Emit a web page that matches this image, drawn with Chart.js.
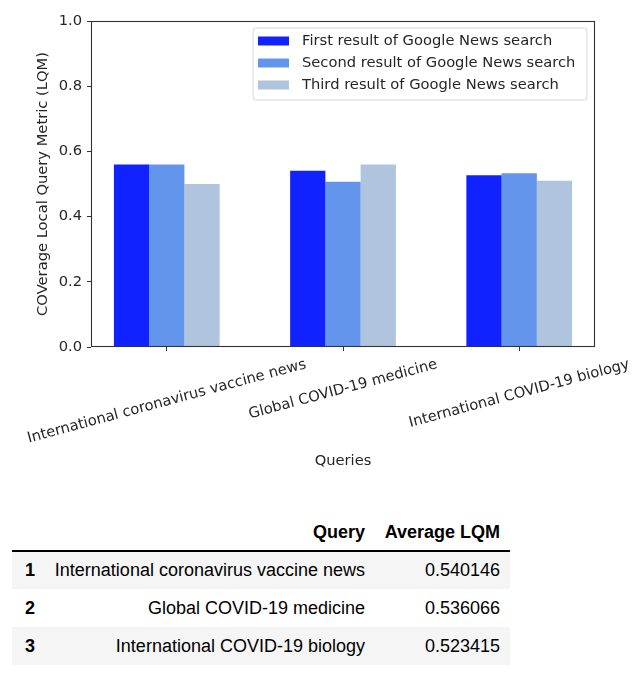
<!DOCTYPE html>
<html>
<head>
<meta charset="utf-8">
<script src="https://cdn.jsdelivr.net/npm/chart.js@4/dist/chart.umd.min.js"></script>
<style>
  html, body { margin: 0; padding: 0; background: #fff; width: 644px; height: 684px; overflow: hidden; }
  #wrap { position: absolute; left: 0; top: 0; width: 644px; height: 490px; }
  table { position: absolute; left: 12px; top: 514px; border-collapse: collapse; width: 498px;
          font-family: 'Liberation Sans', Arial, Helvetica, sans-serif; font-size: 18px; color: #000; table-layout: fixed; }
  th, td { padding: 0; vertical-align: middle; white-space: nowrap; }
  thead tr { height: 37px; border-bottom: 2px solid #000; }
  tbody tr { height: 38px; }
  tbody tr:nth-child(odd) { background: #f5f5f5; }
  .c1 { width: 33px; text-align: left; padding-left: 13px; box-sizing: border-box; font-weight: bold; }
  .c2 { width: 330px; text-align: right; padding-right: 10px; box-sizing: border-box; }
  .c3 { width: 135px; text-align: right; padding-right: 10px; box-sizing: border-box; }
  thead th { font-weight: bold; }
</style>
</head>
<body>
<div id="wrap"><canvas id="chart" width="644" height="490"></canvas></div>
<table id="tbl"><thead></thead><tbody></tbody></table>
<script>
// ---- data ----
const categories = ['International coronavirus vaccine news', 'Global COVID-19 medicine', 'International COVID-19 biology'];
const seriesLabels = ['First result of Google News search', 'Second result of Google News search', 'Third result of Google News search'];
const firstResult  = [0.560, 0.541, 0.527];
const secondResult = [0.560, 0.507, 0.533];
const thirdResult  = [0.500, 0.560, 0.510];
const yTicks = [0.0, 0.2, 0.4, 0.6, 0.8, 1.0];
const tableHeader = ['', 'Query', 'Average LQM'];
const tableRank = ['1', '2', '3'];
const tableQuery = ['International coronavirus vaccine news', 'Global COVID-19 medicine', 'International COVID-19 biology'];
const tableAvg = ['0.540146', '0.536066', '0.523415'];

const seriesColors = ['#1022ff', '#6495ed', '#b0c4de'];
const FONT = "'DejaVu Sans', sans-serif";
const FS = 14.7;
const TXT = '#262626';

// ---- table ----
(function buildTable() {
  const thead = document.querySelector('#tbl thead');
  const tbody = document.querySelector('#tbl tbody');
  const hr = document.createElement('tr');
  tableHeader.forEach((h, i) => {
    const th = document.createElement('th');
    th.className = 'c' + (i + 1);
    th.textContent = h;
    hr.appendChild(th);
  });
  thead.appendChild(hr);
  tableRank.forEach((r, i) => {
    const tr = document.createElement('tr');
    const a = document.createElement('th'); a.className = 'c1'; a.textContent = r;
    const b = document.createElement('td'); b.className = 'c2'; b.textContent = tableQuery[i];
    const c = document.createElement('td'); c.className = 'c3'; c.textContent = tableAvg[i];
    tr.appendChild(a); tr.appendChild(b); tr.appendChild(c);
    tbody.appendChild(tr);
  });
})();

// ---- chart ----
const seriesValues = [firstResult, secondResult, thirdResult];
const datasets = seriesValues.map((vals, s) => ({
  label: seriesLabels[s],
  data: vals.map((v, i) => ({ x: i, y: v })),
  backgroundColor: seriesColors[s],
  borderWidth: 0,
  categoryPercentage: 0.6,
  barPercentage: 1.0
}));

const CANVAS_H = 490;
const AREA = { left: 91, top: 21, right: 595, bottom: 347 };

const customDraw = {
  id: 'customDraw',
  afterDraw(chart) {
    const ctx = chart.ctx;
    const ca = chart.chartArea;
    ctx.save();
    // frame
    ctx.strokeStyle = '#333';
    ctx.lineWidth = 1.1;
    ctx.strokeRect(ca.left + 0.5, ca.top + 0.5, ca.right - ca.left - 1, ca.bottom - ca.top - 1);

    // rotated centered x tick labels
    const xs = chart.scales.x;
    ctx.font = FS + 'px ' + FONT;
    ctx.fillStyle = TXT;
    ctx.textAlign = 'center';
    ctx.textBaseline = 'middle';
    const ang = 15 * Math.PI / 180;
    const h = FS * 1.17;
    categories.forEach((lab, i) => {
      const px = xs.getPixelForValue(i);
      const w = ctx.measureText(lab).width;
      const H = w * Math.sin(ang) + h * Math.cos(ang);
      const top = ca.bottom + 4 + 5;
      ctx.save();
      ctx.translate(px, top + H / 2);
      ctx.rotate(-ang);
      ctx.fillText(lab, 0, 0);
      ctx.restore();
    });

    // legend
    const lx = 253, ly = 28, lw = 334, lh = 72, r = 3;
    ctx.beginPath();
    ctx.moveTo(lx + r, ly);
    ctx.lineTo(lx + lw - r, ly);
    ctx.quadraticCurveTo(lx + lw, ly, lx + lw, ly + r);
    ctx.lineTo(lx + lw, ly + lh - r);
    ctx.quadraticCurveTo(lx + lw, ly + lh, lx + lw - r, ly + lh);
    ctx.lineTo(lx + r, ly + lh);
    ctx.quadraticCurveTo(lx, ly + lh, lx, ly + lh - r);
    ctx.lineTo(lx, ly + r);
    ctx.quadraticCurveTo(lx, ly, lx + r, ly);
    ctx.closePath();
    ctx.fillStyle = 'rgba(255,255,255,0.8)';
    ctx.fill();
    ctx.strokeStyle = '#d6d6d6';
    ctx.lineWidth = 1;
    ctx.stroke();
    ctx.textAlign = 'left';
    ctx.textBaseline = 'middle';
    chart.data.datasets.forEach((ds, i) => {
      const cy = 41 + i * 22;
      ctx.fillStyle = ds.backgroundColor;
      ctx.fillRect(258, cy - 4.5, 31, 9);
      ctx.fillStyle = TXT;
      ctx.fillText(ds.label, 302, cy);
    });
    ctx.restore();
  }
};

new Chart(document.getElementById('chart'), {
  type: 'bar',
  data: { datasets },
  options: {
    responsive: false,
    animation: false,
    devicePixelRatio: 1,
    layout: { padding: { top: AREA.top, right: 644 - AREA.right, left: 0, bottom: 0 } },
    plugins: { legend: { display: false }, tooltip: { enabled: false } },
    scales: {
      x: {
        type: 'linear',
        offset: false,
        min: -0.43,
        max: 2.43,
        afterBuildTicks: (scale) => { scale.ticks = categories.map((c, i) => ({ value: i })); },
        afterFit: (scale) => { scale.height = CANVAS_H - AREA.bottom; },
        ticks: { display: false },
        grid: { display: true, offset: false, drawOnChartArea: false, drawTicks: true, tickLength: 4, color: '#333', lineWidth: 1 },
        border: { display: false },
        title: { display: true, text: 'Queries', color: TXT, font: { family: FONT, size: FS }, padding: { top: 0, bottom: 20 } }
      },
      y: {
        min: 0,
        max: 1,
        afterBuildTicks: (scale) => { scale.ticks = yTicks.map(v => ({ value: v })); },
        afterFit: (scale) => { scale.width = AREA.left; },
        ticks: { color: TXT, font: { family: FONT, size: FS }, padding: 5, callback: (v) => Number(v).toFixed(1) },
        grid: { display: true, drawOnChartArea: false, drawTicks: true, tickLength: 4, color: '#333', lineWidth: 1 },
        border: { display: false },
        title: { display: true, text: 'COVerage Local Query Metric (LQM)', color: TXT, font: { family: FONT, size: FS }, padding: { top: 34, bottom: 0 } }
      }
    }
  },
  plugins: [customDraw]
});
</script>
</body>
</html>
